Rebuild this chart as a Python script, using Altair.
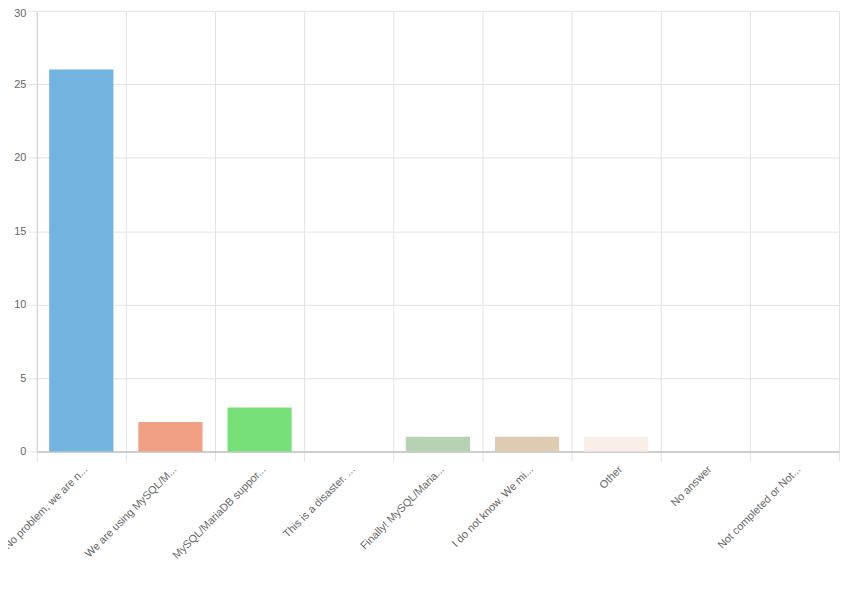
import altair as alt
import pandas as pd

categories = [
    "No problem, we are n...",
    "We are using MySQL/M...",
    "MySQL/MariaDB suppor...",
    "This is a disaster. ...",
    "Finally! MySQL/Maria...",
    "I do not know. We mi...",
    "Other",
    "No answer",
    "Not completed or Not...",
]
counts = [26, 2, 3, 0, 1, 1, 1, 0, 0]
colors = ["#72b3df", "#f0a085", "#78e078", "#cccccc", "#b5d3b3",
          "#dfcbb1", "#faeee9", "#cccccc", "#cccccc"]

df = pd.DataFrame({"cat": categories, "n": counts, "color": colors})

chart = alt.Chart(df).mark_bar(width=alt.RelativeBandSize(0.72)).encode(
    x=alt.X("cat:N", sort=categories, title=None,
            scale=alt.Scale(paddingInner=0, paddingOuter=0),
            axis=alt.Axis(labelAngle=-45, labelAlign="right", labelBaseline="top",
                          tickBand="extent", grid=True, gridColor="#e3e3e3",
                          tickColor="#e3e3e3", tickSize=10, domainColor="#aaaaaa",
                          labelPadding=2, labelFont="Liberation Sans", labelFontSize=11,
                          labelColor="#666666", labelLimit=200)),
    y=alt.Y("n:Q", title=None,
            scale=alt.Scale(domain=[0, 30], nice=False),
            axis=alt.Axis(values=[0, 5, 10, 15, 20, 25, 30], gridColor="#e3e3e3",
                          tickColor="#e3e3e3", tickSize=9, domainColor="#d0d0d0",
                          labelPadding=2, labelFont="Liberation Sans", labelFontSize=11,
                          labelColor="#666666",
                          labelOffset=alt.condition("datum.value == 30", alt.value(3), alt.value(0)))),
    color=alt.Color("color:N", scale=None),
).properties(
    width=810, height=445,
    autosize=alt.AutoSizeParams(type="none"),
    padding={"left": 29, "top": 0, "right": 3, "bottom": 130},
).configure_view(stroke=None)

chart.save("out.html", embed_options={"renderer": "svg", "actions": False})
